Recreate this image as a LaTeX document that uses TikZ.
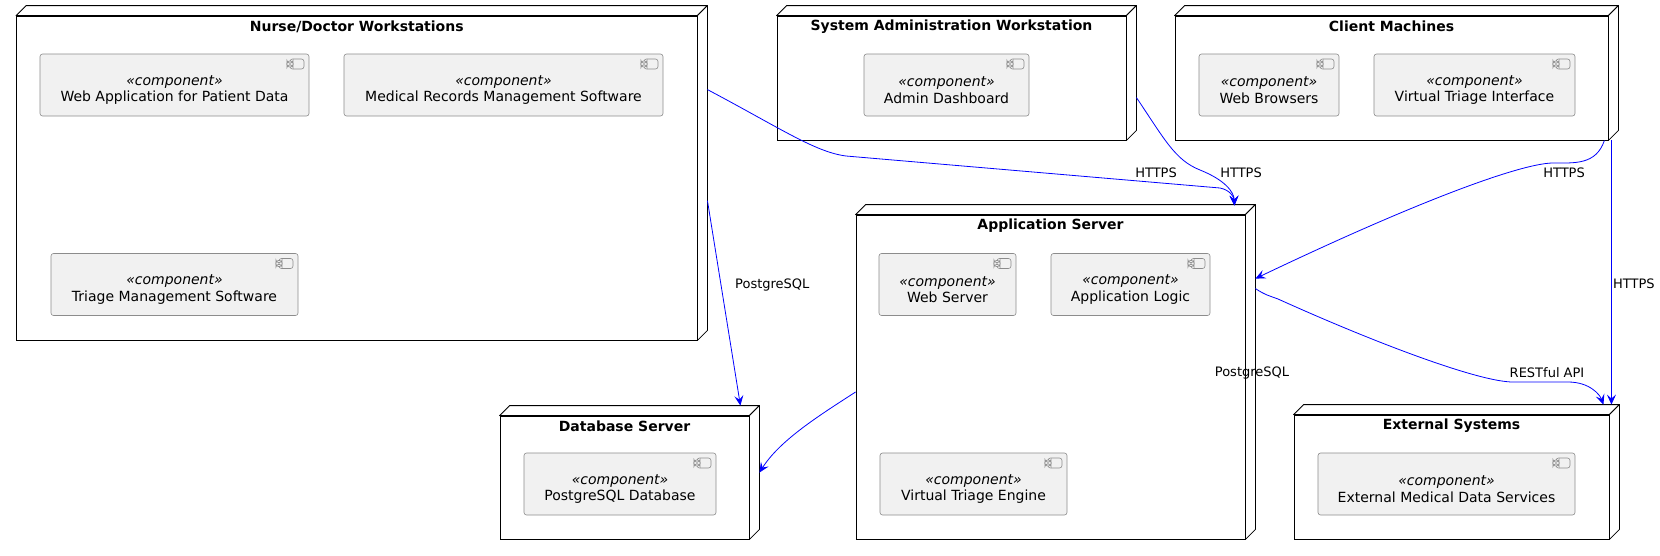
\documentclass[tikz,border=0pt]{standalone}
\usepackage{fontspec}
\setmainfont{DejaVu Sans}
\usetikzlibrary{calc,arrows.meta}
\definecolor{compfill}{HTML}{F1F1F1}
\definecolor{compline}{HTML}{8C8C8C}
\definecolor{edgeblue}{HTML}{0000FF}
\tikzset{
  deploy/.style={draw=black, line width=0.85pt, fill=white, rectangle, inner sep=0pt},
  nodeline/.style={draw=black, line width=0.85pt, fill=white, line join=round},
  nodetitle/.style={font=\fontsize{14}{16}\selectfont\bfseries, inner sep=0pt},
  ctext/.style={align=center, font=\fontsize{14}{16.5}\selectfont, yshift=-5pt, inner sep=0pt},
  comp/.style={draw=compline, line width=0.6pt, fill=compfill, rounded corners=2.5pt,
    inner sep=0pt, minimum height=62pt,
    path picture={
      \coordinate (pp) at (path picture bounding box.north east);
      \draw[compline, line width=0.6pt, fill=compfill] ($(pp)+(-19,5)$) rectangle ($(pp)+(-5,15)$);
      \draw[compline, line width=0.6pt, fill=compfill] ($(pp)+(-22,7)$) rectangle ($(pp)+(-16,9)$);
      \draw[compline, line width=0.6pt, fill=compfill] ($(pp)+(-22,11)$) rectangle ($(pp)+(-16,13)$);
    }},
  edge/.style={draw=edgeblue, line width=0.8pt, -{Stealth[length=10pt,width=9pt,inset=4pt]}},
  elabel/.style={font=\fontsize{13}{15}\selectfont, inner sep=0pt, text=black},
}
\begin{document}
\begin{tikzpicture}[x=1pt,y=-1pt]
\fill[white] (0,0) rectangle (1660,555);
\useasboundingbox (0,0) rectangle (1660,555);

% deployment nodes (front faces)
\node[deploy, minimum width=680.5pt, minimum height=324pt] (nurse) at (356.75,178) {};
\node[deploy, minimum width=349pt, minimum height=124pt] (admin) at (951.5,78) {};
\node[deploy, minimum width=433pt, minimum height=124pt] (client) at (1391.5,78) {};
\node[deploy, minimum width=389pt, minimum height=324pt] (app) at (1050.5,377) {};
\node[deploy, minimum width=249pt, minimum height=123pt] (db) at (624.5,477.5) {};
\node[deploy, minimum width=315pt, minimum height=124pt] (ext) at (1451.5,477) {};

% 3D back faces
\foreach \n in {nurse,admin,client,app,db,ext}{
  \filldraw[nodeline] (\n.north west) -- ++(10,-10) -- ($(\n.north east)+(10,-10)$) -- (\n.north east) -- cycle;
  \filldraw[nodeline] (\n.north east) -- ($(\n.north east)+(10,-10)$) -- ($(\n.south east)+(10,-10)$) -- (\n.south east) -- cycle;
}

% titles
\node[nodetitle] (nurse-t) at ($(nurse.north)+(0,11)$) {Nurse/Doctor Workstations};
\node[nodetitle] (admin-t) at ($(admin.north)+(0,11)$) {System Administration Workstation};
\node[nodetitle] (client-t) at ($(client.north)+(0,11)$) {Client Machines};
\node[nodetitle] (app-t) at ($(app.north)+(0,11)$) {Application Server};
\node[nodetitle] (db-t) at ($(db.north)+(0,11)$) {Database Server};
\node[nodetitle] (ext-t) at ($(ext.north)+(0,11)$) {External Systems};

% components
\node[comp, minimum width=269pt, label={[ctext]center:{\textit{«component»}\\Web Application for Patient Data}}] (c1) at (174.5,85) {};
\node[comp, minimum width=319pt, label={[ctext]center:{\textit{«component»}\\Medical Records Management Software}}] (c2) at (503.5,85) {};
\node[comp, minimum width=247pt, label={[ctext]center:{\textit{«component»}\\Triage Management Software}}] (c3) at (174.5,284.5) {};
\node[comp, minimum width=165pt, label={[ctext]center:{\textit{«component»}\\Admin Dashboard}}] (c4) at (946.5,85) {};
\node[comp, minimum width=140pt, label={[ctext]center:{\textit{«component»}\\Web Browsers}}] (c5) at (1269,85) {};
\node[comp, minimum width=201pt, label={[ctext]center:{\textit{«component»}\\Virtual Triage Interface}}] (c6) at (1474.5,85) {};
\node[comp, minimum width=137pt, label={[ctext]center:{\textit{«component»}\\Web Server}}] (c7) at (947.5,284.5) {};
\node[comp, minimum width=159pt, label={[ctext]center:{\textit{«component»}\\Application Logic}}] (c8) at (1130.5,284.5) {};
\node[comp, minimum width=187pt, label={[ctext]center:{\textit{«component»}\\Virtual Triage Engine}}] (c9) at (973.5,484) {};
\node[comp, minimum width=192pt, label={[ctext]center:{\textit{«component»}\\PostgreSQL Database}}] (c10) at (620,484) {};
\node[comp, minimum width=257pt, label={[ctext]center:{\textit{«component»}\\External Medical Data Services}}] (c11) at (1446.5,484) {};

% connectors
\draw[edge] ($(nurse.north east)+(10,74)$) .. controls (780,128) and (815,152) .. (846,156)
  -- (1220,188) .. controls (1230,190) and (1234,197) .. ($(app.north east)+(-11,-9)$);
\draw[edge] ($(admin.north east)+(10,82)$) .. controls (1165,140) and (1175,160) .. (1200,170)
  .. controls (1225,180) and (1234,192) .. ($(app.north east)+(-11,-9)$);
\draw[edge] ($(client.south east)+(-4,0)$) .. controls (1596,165) and (1575,163) .. (1552,163)
  .. controls (1520,164) and (1420,200) .. ($(app.north east)+(10,64)$);
\draw[edge] ($(client.south east)+(3,0)$) -- ($(ext.north east)+(2,-10)$);
\draw[edge] ($(nurse.north east)+(10,185)$) -- ($(db.north east)+(-9,-10)$);
\draw[edge] ($(app.west)+(0,15)$) .. controls (820,415) and (780,440) .. ($(db.north east)+(10,57)$);
\draw[edge] ($(app.north east)+(10,74)$) .. controls (1265,295) and (1270,296) .. (1278,299)
  .. controls (1380,345) and (1480,382) .. (1513,382) -- (1568,382)
  .. controls (1590,382) and (1600,395) .. ($(ext.north east)+(-6,-10)$);

% connector labels
\node[elabel] (l1) at (1156,173) {HTTPS};
\node[elabel] (l2) at (1241,173) {HTTPS};
\node[elabel] (l3) at (1564,173) {HTTPS};
\node[elabel, anchor=west] (l4) at (1613,284) {HTTPS};
\node[elabel, anchor=west] (l5) at (735,285) {PostgreSQL};
\node[elabel] (l6) at (1252,373) {PostgreSQL};
\node[elabel] (l7) at (1547,373) {RESTful API};
\end{tikzpicture}
\end{document}
